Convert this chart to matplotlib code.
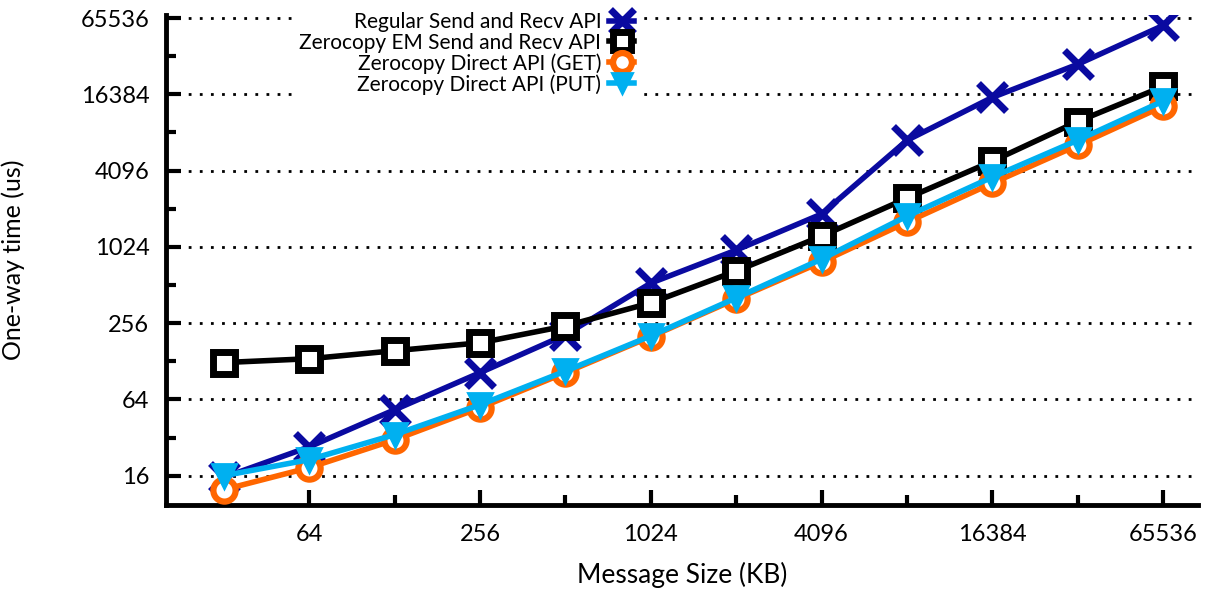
import numpy as np
import matplotlib
matplotlib.use("Agg")
import matplotlib.pyplot as plt
from matplotlib.ticker import FixedLocator, FixedFormatter

# message sizes (KB)
sizes = [32, 64, 128, 256, 512, 1024, 2048, 4096, 8192, 16384, 32768, 65536]

# one-way time (us)
regular = [15.5, 27, 53, 104, 207, 530, 965, 1860, 7100, 15500, 28300, 57300]
zc_em = [125, 134, 155, 179, 243, 370, 660, 1245, 2480, 4860, 10000, 18900]
zc_get = [12.4, 18.5, 30.7, 55, 104, 200, 397, 778, 1605, 3260, 6490, 13200]
zc_put = [16, 21.4, 33.7, 58, 107, 203, 405, 820, 1790, 3640, 7120, 14500]

labels = [
    "Regular Send and Recv API",
    "Zerocopy EM Send and Recv API",
    "Zerocopy Direct API (GET)",
    "Zerocopy Direct API (PUT)",
]

x_ticks = [64, 256, 1024, 4096, 16384, 65536]
y_ticks = [16, 64, 256, 1024, 4096, 16384, 65536]
minor_ticks = [32, 128, 512, 2048, 8192, 32768]

plt.rcParams["font.family"] = ["Lato", "DejaVu Sans"]

fig = plt.figure(figsize=(12.17, 5.94), dpi=100)
ax = fig.add_axes([0.1364, 0.150, 0.848, 0.825])

for yv in y_ticks:
    ax.axhline(yv, color="black", lw=2, ls=(0, (1, 3)), zorder=0)

ax.plot(sizes, regular, color="#0a0aa0", lw=4, marker="x", ms=20, mew=5,
        label=labels[0], zorder=3)
ax.plot(sizes, zc_em, color="black", lw=4, marker="s", ms=16, mew=5,
        mfc="white", label=labels[1], zorder=4)
ax.plot(sizes, zc_get, color="#ff6600", lw=4, marker="o", ms=16, mew=4.5,
        mfc="white", label=labels[2], zorder=5)
ax.plot(sizes, zc_put, color="#00b0f0", lw=4, marker="v", ms=17, mew=2,
        label=labels[3], zorder=6)

ax.set_xscale("log", base=2)
ax.set_yscale("log", base=2)
ax.set_xlim(20, 87000)
ax.set_ylim(9.4, 69500)

ax.xaxis.set_major_locator(FixedLocator(x_ticks))
ax.xaxis.set_major_formatter(FixedFormatter([str(v) for v in x_ticks]))
ax.xaxis.set_minor_locator(FixedLocator(minor_ticks))
ax.yaxis.set_major_locator(FixedLocator(y_ticks))
ax.yaxis.set_major_formatter(FixedFormatter([str(v) for v in y_ticks]))
ax.yaxis.set_minor_locator(FixedLocator(minor_ticks))
ax.xaxis.set_minor_formatter(FixedFormatter([]))
ax.yaxis.set_minor_formatter(FixedFormatter([]))

ax.tick_params(which="major", direction="in", length=11, width=3,
               labelsize=17, pad=12)
ax.tick_params(which="minor", direction="in", length=7, width=3)
ax.tick_params(top=False, right=False)
ax.tick_params(axis="x", which="major", pad=14)

for side in ["top", "right"]:
    ax.spines[side].set_visible(False)
for side in ["left", "bottom"]:
    ax.spines[side].set_linewidth(3.5)

ax.set_xlabel("Message Size (KB)", fontsize=19, labelpad=12)
ax.set_ylabel("One-way time (us)", fontsize=18, labelpad=40)

leg = ax.legend(loc="upper left", bbox_to_anchor=(0.115, 1.035),
                markerfirst=False, frameon=True, framealpha=1,
                edgecolor="white", fontsize=15, handlelength=1.2,
                labelspacing=0.02, borderpad=0.2, handletextpad=0.4,
                markerscale=0.85)
for t in leg.get_texts():
    t.set_ha("right")
leg._legend_box.align = "right"

fig.savefig("out.png", dpi=100)
